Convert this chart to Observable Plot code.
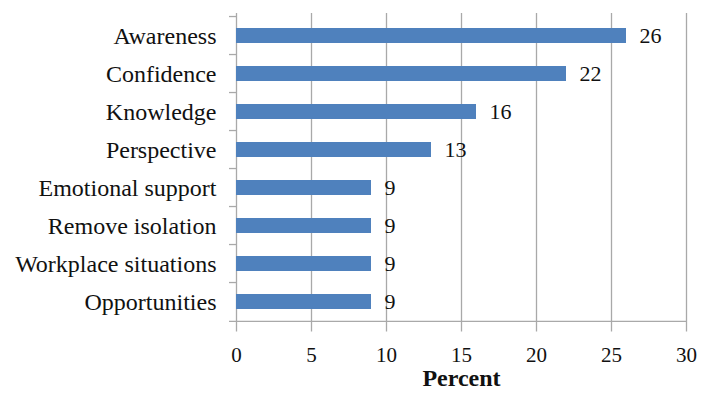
<!DOCTYPE html>
<html>
<head>
<meta charset="utf-8">
<script src="https://cdn.jsdelivr.net/npm/d3@7"></script>
<script src="https://cdn.jsdelivr.net/npm/@observablehq/plot@0.6"></script>
<style>
  html, body { margin: 0; padding: 0; background: #fff; font-family: "Liberation Serif", serif; }
  #chart svg g[aria-label^="y-axis"] text { font-size: 24px; }
  #chart svg g[aria-label^="x-axis"] text { font-size: 21px; }
</style>
</head>
<body>
<div id="chart"></div>
<script>
const categories = ["Awareness", "Confidence", "Knowledge", "Perspective", "Emotional support", "Remove isolation", "Workplace situations", "Opportunities"];
const percents = [26, 22, 16, 13, 9, 9, 9, 9];
const xTicks = [0, 5, 10, 15, 20, 25, 30];
const xLabel = "Percent";

const data = categories.map((c, i) => ({category: c, value: percents[i]}));
const grid = "#a9a9a9";
const serif = "Liberation Serif";
const step = (394 - 13 - 69.5) / categories.length;

const chart = Plot.plot({
  width: 701,
  height: 394,
  marginLeft: 236,
  marginRight: 15,
  marginTop: 13,
  marginBottom: 69.5,
  style: {fontFamily: serif, fontSize: "21px", color: "#111", background: "#fff", overflow: "visible"},
  x: {domain: [0, 30], ticks: xTicks, tickSize: 0, tickPadding: 22, label: null},
  y: {domain: categories, paddingInner: 0.6, paddingOuter: 0.3, tickSize: 0, tickPadding: 20, label: null},
  marks: [
    Plot.ruleX(xTicks, {x: d => d, stroke: grid, strokeWidth: 1.3, insetBottom: -7}),
    Plot.ruleY(categories, {y: d => d, x1: d => 0, x2: d => 0, insetLeft: -7, stroke: grid, strokeWidth: 1.3, dy: -step / 2}),
    Plot.ruleY(categories.slice(-1), {y: d => d, x1: d => 0, x2: d => 30, insetLeft: -7, stroke: grid, strokeWidth: 1.3, dy: step / 2}),
    Plot.barX(data, {x: "value", y: "category", fill: "#4f81bd"}),
    Plot.text(data, {x: "value", y: "category", text: d => String(d.value), textAnchor: "start", dx: 13, fontSize: 22, fontFamily: serif, fill: "#111"}),
    Plot.text([xLabel], {text: d => d, frameAnchor: "bottom", dy: 61, fontWeight: "bold", fontSize: 24, fontFamily: serif, fill: "#111"})
  ]
});
chart.querySelectorAll("text").forEach(t => t.style.fontFamily = serif);
document.getElementById("chart").appendChild(chart);
</script>
</body>
</html>
